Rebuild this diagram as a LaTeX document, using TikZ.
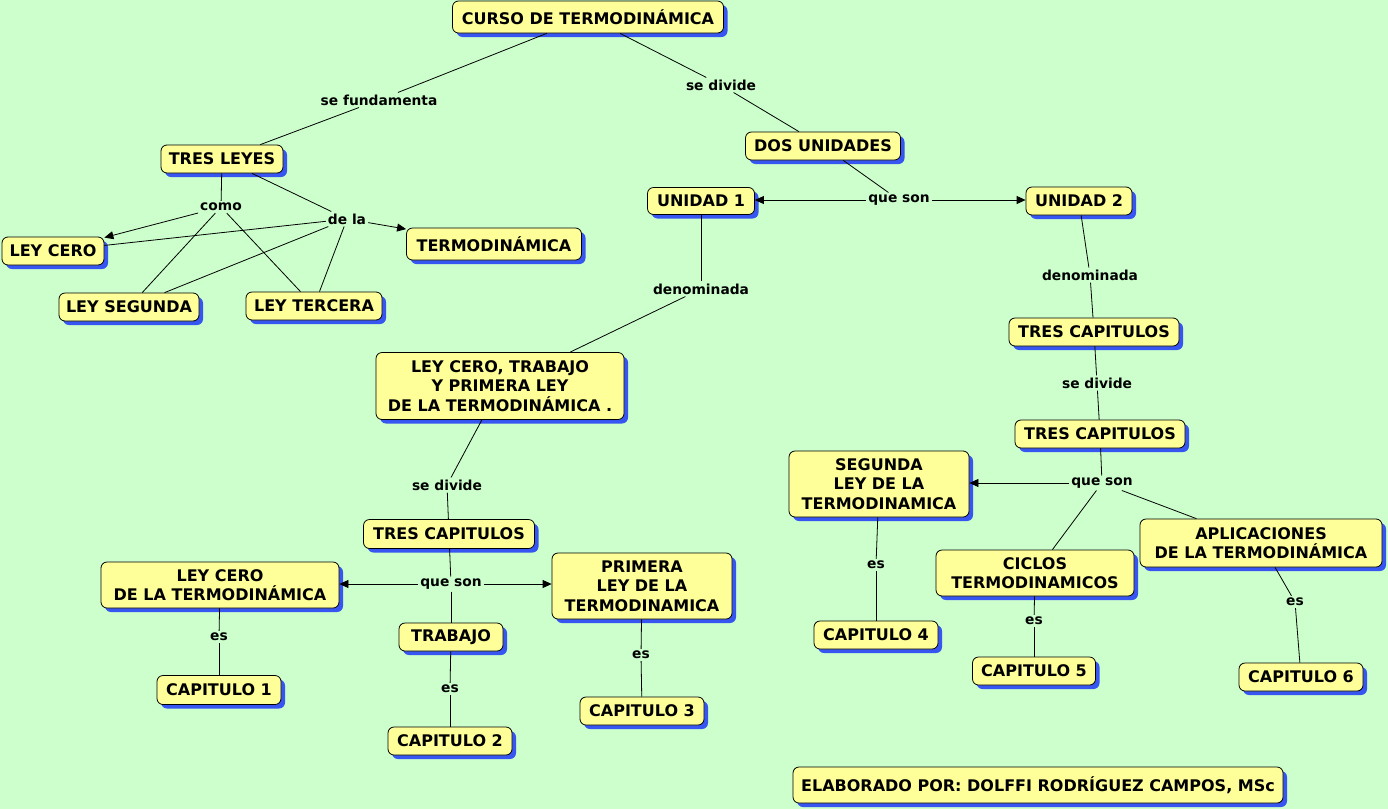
\documentclass[tikz,border=0pt]{standalone}
\usepackage{fontspec}
\setmainfont{DejaVu Sans}
\usetikzlibrary{shadows,arrows.meta}
\definecolor{bgc}{RGB}{204,255,204}
\definecolor{cfill}{RGB}{255,255,153}
\definecolor{cshadow}{RGB}{55,85,240}
\begin{document}
\begin{tikzpicture}[x=1pt,y=-1pt,
  concept/.style={draw=black, line width=0.8pt, fill=cfill, rounded corners=6pt,
    align=center, inner sep=0pt,
    font=\bfseries\fontsize{16}{19.5}\selectfont,
    drop shadow={shadow xshift=4pt, shadow yshift=-4pt, fill=cshadow, opacity=1}},
  sz/.style 2 args={minimum width=#1pt, minimum height=#2pt},
  link/.style={inner sep=2pt, font=\bfseries\fontsize{13.8}{16}\selectfont},
  conn/.style={draw=black, line width=0.8pt},
  arr/.style={conn, -{Triangle[length=9pt,width=8pt]}}]
\useasboundingbox (0,0) rectangle (1388,809);
\fill[bgc] (0,0) rectangle (1388,809);

% concepts
\node[concept, sz={271}{32}] (curso) at (588,17) {CURSO DE TERMODINÁMICA};
\node[concept, sz={122}{28}] (tresleyes) at (222,159) {TRES LEYES};
\node[concept, sz={155}{28}] (dosuni) at (823,146) {DOS UNIDADES};
\node[concept, sz={107}{27}] (uni1) at (701,201) {UNIDAD 1};
\node[concept, sz={106}{28}] (uni2) at (1079,201) {UNIDAD 2};
\node[concept, sz={102}{28}] (leycero) at (53,251) {LEY CERO};
\node[concept, sz={175}{32}] (termo) at (494,244) {TERMODINÁMICA};
\node[concept, sz={140}{28}] (leyseg) at (129,307) {LEY SEGUNDA};
\node[concept, sz={136}{28}] (leyter) at (314,306) {LEY TERCERA};
\node[concept, sz={170}{28}] (tcA) at (1094,332) {TRES CAPITULOS};
\node[concept, sz={248}{67}] (lctp) at (500,386) {LEY CERO, TRABAJO\\ Y PRIMERA LEY\\ DE LA TERMODINÁMICA .};
\node[concept, sz={170}{28}] (tcB) at (1100,434) {TRES CAPITULOS};
\node[concept, sz={180}{66}] (segunda) at (879,484) {SEGUNDA\\ LEY DE LA\\ TERMODINAMICA};
\node[concept, sz={171}{29}] (tcL) at (449,534) {TRES CAPITULOS};
\node[concept, sz={242}{48}] (aplic) at (1261,543) {APLICACIONES\\ DE LA TERMODINÁMICA};
\node[concept, sz={238}{46}] (lcdt) at (220,585) {LEY CERO\\ DE LA TERMODINÁMICA};
\node[concept, sz={180}{66}] (primera) at (642,586) {PRIMERA\\ LEY DE LA\\ TERMODINAMICA};
\node[concept, sz={198}{46}] (ciclos) at (1035,573) {CICLOS\\ TERMODINAMICOS};
\node[concept, sz={104}{28}] (trabajo) at (451,637) {TRABAJO};
\node[concept, sz={124}{28}] (cap4) at (876,635) {CAPITULO 4};
\node[concept, sz={123}{28}] (cap5) at (1034,671) {CAPITULO 5};
\node[concept, sz={124}{28}] (cap6) at (1301,677) {CAPITULO 6};
\node[concept, sz={124}{29}] (cap1) at (219,690) {CAPITULO 1};
\node[concept, sz={124}{28}] (cap2) at (450,741) {CAPITULO 2};
\node[concept, sz={124}{28}] (cap3) at (642,711) {CAPITULO 3};
\node[concept, sz={490}{36}] (elab) at (1038,785) {ELABORADO POR: DOLFFI RODRÍGUEZ CAMPOS, MSc};

% linking phrases
\node[link] (sefund) at (379,100) {se fundamenta};
\node[link] (sedivT) at (721,85) {se divide};
\node[link] (como) at (221,207) {como};
\node[link] (dela) at (347,219) {de la};
\node[link] (quesonT) at (899,200) {que son};
\node[link] (denom1) at (701,289) {denominada};
\node[link] (denom2) at (1090,275) {denominada};
\node[link] (sedivR) at (1097,383) {se divide};
\node[link] (sedivL) at (447,485) {se divide};
\node[link] (quesonL) at (451,584) {que son};
\node[link] (quesonR) at (1102,483) {que son};
\node[link] (es1) at (219,637) {es};
\node[link] (es2) at (450,689) {es};
\node[link] (es3) at (641,655) {es};
\node[link] (es4) at (876,565) {es};
\node[link] (es5) at (1034,621) {es};
\node[link] (es6) at (1295,602) {es};

% connectors
\draw[conn] (curso) -- (sefund);
\draw[conn] (sefund) -- (tresleyes);
\draw[conn] (curso) -- (sedivT);
\draw[conn] (sedivT) -- (dosuni);

\draw[conn] (tresleyes) -- (como);
\draw[conn] (tresleyes) -- (dela);
\draw[arr] (como) -- (leycero);
\draw[conn] (como) -- (leyseg);
\draw[conn] (como) -- (leyter);
\draw[conn] (dela) -- (leycero);
\draw[conn] (dela) -- (leyseg);
\draw[conn] (dela) -- (leyter);
\draw[arr] (dela) -- (termo);

\draw[conn] (dosuni) -- (quesonT);
\draw[arr] (quesonT.west) -- (quesonT.west -| uni1.east);
\draw[arr] (quesonT.east) -- (quesonT.east -| uni2.west);

\draw[conn] (uni1) -- (denom1);
\draw[conn] (denom1) -- (lctp);
\draw[conn] (lctp) -- (sedivL);
\draw[conn] (sedivL) -- (tcL);
\draw[conn] (tcL) -- (quesonL);
\draw[arr] (quesonL.west) -- (quesonL.west -| lcdt.east);
\draw[arr] (quesonL.east) -- (quesonL.east -| primera.west);
\draw[conn] (quesonL) -- (trabajo);
\draw[conn] (lcdt) -- (es1);
\draw[conn] (es1) -- (cap1);
\draw[conn] (trabajo) -- (es2);
\draw[conn] (es2) -- (cap2);
\draw[conn] (primera) -- (es3);
\draw[conn] (es3) -- (cap3);

\draw[conn] (uni2) -- (denom2);
\draw[conn] (denom2) -- (tcA);
\draw[conn] (tcA) -- (sedivR);
\draw[conn] (sedivR) -- (tcB);
\draw[conn] (tcB) -- (quesonR);
\draw[arr] (quesonR.west) -- (quesonR.west -| segunda.east);
\draw[conn] (quesonR) -- (ciclos);
\draw[conn] (quesonR) -- (aplic);
\draw[conn] (segunda) -- (es4);
\draw[conn] (es4) -- (cap4);
\draw[conn] (ciclos) -- (es5);
\draw[conn] (es5) -- (cap5);
\draw[conn] (aplic) -- (es6);
\draw[conn] (es6) -- (cap6);
\end{tikzpicture}
\end{document}
